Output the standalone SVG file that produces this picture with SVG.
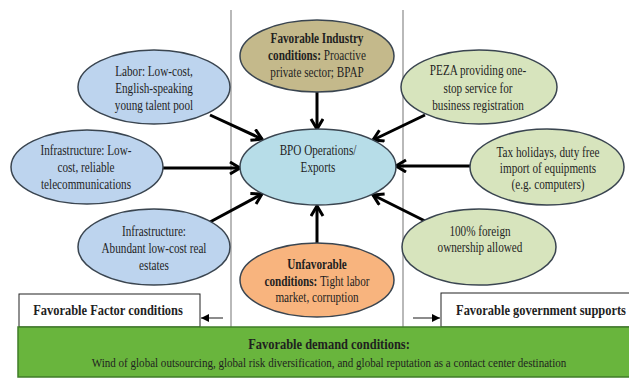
<svg xmlns="http://www.w3.org/2000/svg" width="629" height="378" viewBox="0 0 629 378">
<style>
text{font-family:"Liberation Serif","Times New Roman",serif;font-size:14px;fill:#1f1f1f;text-anchor:middle}
.b{font-weight:bold}
.bx{font-size:15px;font-weight:bold}
.sub{font-size:13px}
.ell{stroke:#3a4550;stroke-width:1.5}
.blue{fill:#bdd4ee}
.olive{fill:#c4b98b}
.cyan{fill:#b7dde8}
.orange{fill:#f8b47e}
.green{fill:#d7e4bd}
.arr{stroke:#000;stroke-width:3;fill:none;marker-end:url(#ah)}
.sarr{stroke:#666;stroke-width:1.5;fill:none;marker-end:url(#sah)}
.vline{stroke:#8a8a8a;stroke-width:1.2}
</style>
<defs>
<marker id="ah" markerUnits="userSpaceOnUse" markerWidth="16" markerHeight="16" refX="12" refY="7" orient="auto">
<path d="M2,1 L12,7 L2,13" fill="none" stroke="#000" stroke-width="3"/>
</marker>
<marker id="sah" markerUnits="userSpaceOnUse" markerWidth="10" markerHeight="10" refX="8" refY="4" orient="auto">
<path d="M0,0 L8,4 L0,8 Z" fill="#000"/>
</marker>
</defs>
<rect width="629" height="378" fill="#fff"/>
<g id="dividers">
<line class="vline" x1="231" y1="10" x2="231" y2="327"/>
<line class="vline" x1="403" y1="10" x2="403" y2="327"/>
</g>
<g id="connectors">
<line class="arr" x1="210" y1="115" x2="262" y2="139"/>
<line class="arr" x1="163" y1="168" x2="240" y2="168"/>
<line class="arr" x1="210" y1="222" x2="262" y2="194"/>
<line class="arr" x1="317" y1="92" x2="317" y2="129"/>
<line class="arr" x1="317" y1="243" x2="317" y2="206"/>
<line class="arr" x1="425" y1="115" x2="373" y2="140"/>
<line class="arr" x1="470" y1="166" x2="396" y2="166"/>
<line class="arr" x1="425" y1="221" x2="373" y2="195"/>
<line class="sarr" x1="223" y1="318" x2="201" y2="318"/>
<line class="sarr" x1="413" y1="318" x2="440" y2="318"/>
</g>
<g id="labor">
<ellipse class="ell blue" cx="154" cy="87" rx="76" ry="37"/>
<g transform="translate(154 0) scale(0.8 1)">
<text x="0" y="76">Labor: Low-cost,</text>
<text x="0" y="93">English-speaking</text>
<text x="0" y="110">young talent pool</text>
</g>
</g>
<g id="infra-telecom">
<ellipse class="ell blue" cx="87" cy="167" rx="76" ry="37"/>
<g transform="translate(86 0) scale(0.8 1)">
<text x="0" y="155">Infrastructure: Low-</text>
<text x="0" y="172">cost, reliable</text>
<text x="0" y="189">telecommunications</text>
</g>
</g>
<g id="infra-realestate">
<ellipse class="ell blue" cx="154" cy="247" rx="76" ry="38"/>
<g transform="translate(154 0) scale(0.8 1)">
<text x="0" y="236">Infrastructure:</text>
<text x="0" y="253">Abundant low-cost real</text>
<text x="0" y="270">estates</text>
</g>
</g>
<g id="industry">
<ellipse class="ell olive" cx="317" cy="56" rx="77" ry="36"/>
<g transform="translate(317 0) scale(0.8 1)">
<text x="0" y="43" class="b">Favorable Industry</text>
<text x="0" y="60"><tspan class="b">conditions:</tspan> Proactive</text>
<text x="0" y="77">private sector; BPAP</text>
</g>
</g>
<g id="bpo">
<ellipse class="ell cyan" cx="318" cy="167" rx="78" ry="38"/>
<g transform="translate(318 0) scale(0.8 1)">
<text x="0" y="155">BPO Operations/</text>
<text x="0" y="172">Exports</text>
</g>
</g>
<g id="unfavorable">
<ellipse class="ell orange" cx="317" cy="280" rx="77" ry="37"/>
<g transform="translate(317 0) scale(0.8 1)">
<text x="0" y="269" class="b">Unfavorable</text>
<text x="0" y="286"><tspan class="b">conditions:</tspan> Tight labor</text>
<text x="0" y="302">market, corruption</text>
</g>
</g>
<g id="peza">
<ellipse class="ell green" cx="479" cy="87" rx="78" ry="37"/>
<g transform="translate(478 0) scale(0.8 1)">
<text x="0" y="75">PEZA providing one-</text>
<text x="0" y="93">stop service for</text>
<text x="0" y="110">business registration</text>
</g>
</g>
<g id="tax">
<ellipse class="ell green" cx="547" cy="167" rx="77" ry="38"/>
<g transform="translate(548 0) scale(0.8 1)">
<text x="0" y="157">Tax holidays, duty free</text>
<text x="0" y="173">import of equipments</text>
<text x="0" y="189">(e.g. computers)</text>
</g>
</g>
<g id="foreign">
<ellipse class="ell green" cx="479" cy="247" rx="77" ry="38"/>
<g transform="translate(480 0) scale(0.8 1)">
<text x="0" y="236">100% foreign</text>
<text x="0" y="252">ownership allowed</text>
</g>
</g>
<g id="factor-box">
<rect x="19" y="294" width="181" height="33" fill="#fff" stroke="#222" stroke-width="1"/>
<g transform="translate(108 0) scale(0.83 1)">
<text x="0" y="315" class="bx">Favorable Factor conditions</text>
</g>
</g>
<g id="gov-box">
<rect x="441" y="293" width="195" height="34" fill="#fff" stroke="#222" stroke-width="1"/>
<g transform="translate(541 0) scale(0.83 1)">
<text x="0" y="315" class="bx">Favorable government supports</text>
</g>
</g>
<g id="demand">
<rect x="18" y="327" width="615" height="50" fill="#69b53d" stroke="#3f7d27" stroke-width="1.5"/>
<g transform="translate(329 0) scale(0.83 1)">
<text x="0" y="349" class="bx">Favorable demand conditions:</text>
</g>
<g transform="translate(329 0) scale(0.85 1)">
<text x="0" y="367" class="sub">Wind of global outsourcing, global risk diversification,  and global reputation  as a contact  center destination</text>
</g>
</g>
</svg>
